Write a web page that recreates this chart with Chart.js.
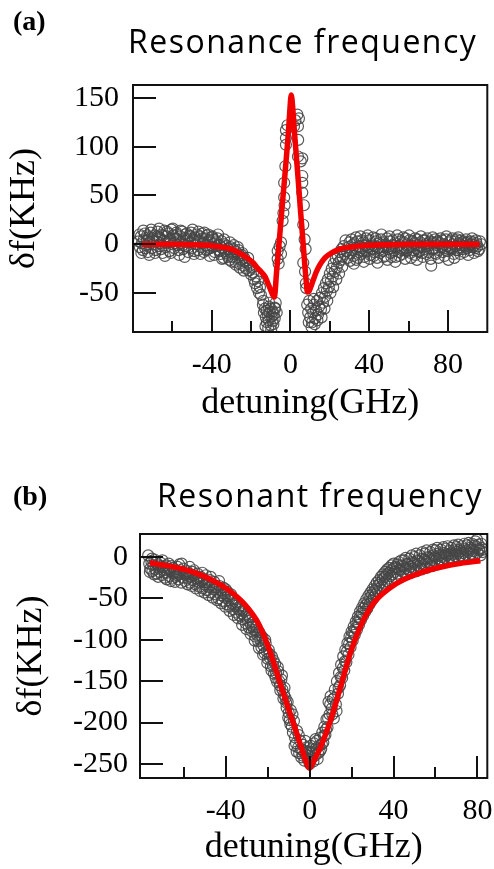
<!DOCTYPE html>
<html>
<head>
<meta charset="utf-8">
<script src="https://cdn.jsdelivr.net/npm/chart.js@4"></script>
<style>
  body { margin: 0; background: #fff; width: 494px; height: 869px; position: relative; overflow: hidden; }
  canvas { position: absolute; left: 0; }
  .tag { position: absolute; font-family: 'Liberation Serif', serif; font-weight: bold; font-size: 28px; line-height: 1; color: #000; }
  .ttl { position: absolute; font-family: 'Open Sans', sans-serif; font-size: 32px; letter-spacing: 1.5px; line-height: 1; color: #000; white-space: nowrap; }
</style>
</head>
<body>
<canvas id="chartA" width="494" height="430" style="top:0"></canvas>
<canvas id="chartB" width="494" height="439" style="top:430px"></canvas>
<div class="tag" style="left:13px;top:7px">(a)</div>
<div class="ttl" style="left:128px;top:25px">Resonance frequency</div>
<div class="tag" style="left:13px;top:482px">(b)</div>
<div class="ttl" style="left:157px;top:479px">Resonant frequency</div>
<script>
// panel (a): resonance frequency shift vs detuning
const aYTicks = [-50, 0, 50, 100, 150];
const aXMajor = [-40, 0, 40, 80];
const aXMinor = [-60, -20, 20, 60];

const aPts = [
  [-77,3],[-76.5,-3],[-76,8],[-75.5,1],[-75,-6],[-74.5,5],[-74,11],[-73.5,-1],[-73,4],[-72.5,-8],
  [-72,7],[-71.5,2],[-71,12],[-70.5,-4],[-70,6],[-69.5,0],[-69,9],[-68.5,-6],[-68,3],[-67.5,13],
  [-67,-2],[-66.5,7],[-66,1],[-65.5,10],[-65,-9],[-64.5,4],[-64,14],[-63.5,-3],[-63,8],[-62.5,2],
  [-62,11],[-61.5,-7],[-61,5],[-60.5,15],[-60,0],[-59.5,9],[-59,-4],[-58.5,6],[-58,12],[-57.5,-1],
  [-57,3],[-56.5,-11],[-56,8],[-55.5,1],[-55,13],[-54.5,-5],[-54,6],[-53.5,10],[-53,-2],[-52.5,4],
  [-52,-8],[-51.5,9],[-51,2],[-50.5,12],[-50,-4],[-49.5,5],[-49,-10],[-48.5,7],[-48,0],[-47.5,10],
  [-47,-6],[-46.5,3],[-46,8],[-45.5,-3],[-45,11],[-44.5,1],[-44,-8],[-43.5,6],[-43,-1],[-42.5,9],
  [-42,-5],[-41.5,4],[-41,-12],[-40.5,2],[-40,7],[-39.5,-3],[-39,5],[-38.5,-8],[-38,1],[-37.5,-2],
  [-37,6],[-36.5,-6],[-36,-1],[-35.5,-10],[-35,3],[-34.5,-4],[-34,-14],[-33.5,0],[-33,-7],[-32.5,-2],
  [-32,-11],[-31.5,-5],[-31,-16],[-30.5,-3],[-30,-9],[-29.5,-13],[-29,-5],[-28.5,-10],[-28,-18],[-27.5,-8],
  [-27,-14],[-26.5,-6],[-26,-20],[-25.5,-12],[-25,-16],[-24.5,-9],[-24,-22],[-23.5,-14],[-23,-18],[-22.5,-25],
  [-22,-19],[-21.5,-14],[-21,-27],[-20.5,-22],[-20,-31],[-19.5,-24],[-19,-29],[-18.5,-36],[-18,-40],[-17.5,-33],
  [-17,-45],[-16.5,-38],[-16,-50],[-15.5,-44],[-15,-52],[-14,-62],[-13.5,-70],[-13,-66],[-12.5,-75],[-12,-68],
  [-12,-80],[-11.5,-72],[-11,-64],[-11,-78],[-10.5,-70],[-10,-83],[-10,-66],[-9.5,-74],[-9,-69],[-9,-79],
  [-8.5,-72],[-8,-65],[-8,-76],[-7.5,-60],[-7,-70],[-6.5,-15],[-6.5,-7],[-6,-20],[-5.5,-2],[-4.8,2],
  [-4.8,-10],[-4,24],[-3.6,32],[-3.2,48],[-3.2,63],[-3,40],[-2.6,80],[-2.3,102],[-2.3,109],[-2.3,117],
  [-1.5,122],[1.8,121],[2.5,127],[3.5,133],[3.8,121],[4.3,129],[3.9,107],[3.8,90],[5.2,85],[6,63],
  [6,53],[6,88],[6,70],[6.5,20],[7.2,5],[7.7,-5],[6.5,-19],[6.8,40],[7.4,-28],[7.8,-40],
  [8,-45],[8.5,-62],[9,-70],[9.5,-58],[10,-75],[10.5,-66],[11,-80],[11.5,-70],[12,-62],[12.5,-76],
  [13,-68],[13.5,-58],[14,-72],[14.5,-64],[15,-55],[15.5,-67],[16,-50],[16.5,-60],[17,-45],[17.5,-54],
  [18,-40],[18.5,-48],[19,-36],[19.5,-44],[20,-30],[20.5,-38],[21,-25],[21.5,-33],[22,-20],[22.5,-28],
  [23,-15],[23.5,-24],[24,-12],[24.5,-19],[25,-8],[25.5,-16],[26,-5],[26.5,-13],[27,-2],[27.5,-10],
  [28,4],[28.5,-7],[29,-14],[29.5,-3],[30,2],[30.5,-9],[31,5],[31.5,-6],[32,-12],[32.5,1],
  [33,-4],[33.5,-16],[34,3],[34.5,-8],[35,-2],[35.5,8],[36,-10],[36.5,-4],[37,2],[37.5,-13],
  [38,-1],[38.5,6],[39,-7],[39.5,-3],[40,4],[40.5,-11],[41,0],[41.5,-5],[42,7],[42.5,-8],
  [43,-2],[43.5,3],[44,-14],[44.5,-4],[45,1],[45.5,-9],[46,5],[46.5,-3],[47,-7],[47.5,2],
  [48,-12],[48.5,-1],[49,6],[49.5,-5],[50,-2],[50.5,3],[51,-9],[51.5,-4],[52,4],[52.5,-6],
  [53,1],[53.5,-13],[54,-3],[54.5,5],[55,-8],[55.5,-1],[56,3],[56.5,-6],[57,-10],[57.5,2],
  [58,-4],[58.5,6],[59,-7],[59.5,0],[60,-3],[60.5,4],[61,-9],[61.5,-2],[62,3],[62.5,-6],
  [63,1],[63.5,-11],[64,-4],[64.5,5],[65,-1],[65.5,-7],[66,2],[66.5,-3],[67,-9],[67.5,4],
  [68,-5],[68.5,0],[69,-2],[69.5,6],[70,-8],[70.5,-1],[71,3],[71.5,-22],[72,-5],[72.5,2],
  [73,-4],[73.5,5],[74,-10],[74.5,-1],[75,3],[75.5,-6],[76,1],[76.5,-3],[77,4],[77.5,-8],
  [78,0],[78.5,-4],[79,5],[79.5,-2],[80,-7],[80.5,2],[81,-3],[81.5,4],[82,-5],[82.5,0],
  [83,-10],[83.5,3],[84,-2],[84.5,5],[85,-6],[85.5,1],[86,-3],[86.5,4],[87,-1],[87.5,-5],
  [88,3],[88.5,-2],[89,1],[89.5,-4],[90,2],[90.5,-1],[91,-6],[91.5,3],[92,0],[92.5,-3],
  [93,2],[93.5,-1],[94,-4],[94.5,1],[95,-2],[96,-5],[97,0],
  // second, denser pass over the wings and the two dips
  [-76.75,10],[-75.75,-9],[-74.75,14],[-73.75,-4],[-72.75,9],[-71.75,-11],[-70.75,15],[-69.75,3],[-68.75,-9],[-67.75,8],
  [-66.75,16],[-65.75,-5],[-64.75,9],[-63.75,-12],[-62.75,13],[-61.75,4],[-60.75,-9],[-59.75,16],[-58.75,1],[-57.75,10],
  [-56.75,-6],[-55.75,14],[-54.75,-1],[-53.75,-13],[-52.75,11],[-51.75,-3],[-50.75,8],[-49.75,15],[-48.75,-7],[-47.75,4],
  [-46.75,13],[-45.75,-10],[-44.75,6],[-43.75,12],[-42.75,-6],[-41.75,10],[-40.75,-4],[-39.75,8],[-38.75,-11],[-37.75,3],
  [-36.75,10],[-35.75,-7],[-34.75,-15],[-33.75,5],[-32.75,-9],[-31.75,-13],[-30.75,2],[-29.75,-18],[-28.75,-1],[-27.75,-21],
  [-26.75,-3],[-25.75,-24],[-24.75,-11],[-23.75,-27],
  [-13.8,-58],[-12.7,-84],[-11.3,-86],[-9.8,-88],[-8.7,-82],[-10.8,-60],[-7.8,-66],
  [9.3,-80],[10.7,-85],[12.3,-82],[13.7,-78],[11.8,-56],[15.8,-75],[17.3,-66],[18.7,-58],[20.3,-50],
  [21.7,-44],[23.3,-36],[24.7,-30],[26.3,-23],
  [30.25,-17],[31.25,-1],[32.25,-20],[33.25,7],[34.25,-14],[35.25,-6],[36.25,4],[37.25,-18],[38.25,-6],[39.25,9],
  [40.25,-15],[41.25,-2],[42.25,-12],[43.25,6],[44.25,-19],[45.25,-6],[46.25,10],[47.25,-13],[48.25,-3],[49.25,-16],
  [50.25,8],[51.25,-13],[52.25,-1],[53.25,-18],[54.25,9],[55.25,-12],[56.25,-4],[57.25,7],[58.25,-15],[59.25,-6],
  [60.25,9],[61.25,-14],[62.25,-2],[63.25,6],[64.25,-16],[65.25,-8],[66.25,8],[67.25,-13],[68.25,4],[69.25,-10],
  [70.25,1],[71.25,-15],[72.25,7],[73.25,-9],[74.25,2],[75.25,-14],[76.25,6],[77.25,-3],[78.25,-12],[79.25,8],
  [80.25,-16],[81.25,-4],[82.25,6],[83.25,-14],[84.25,-6],[85.25,7],[86.25,-10],[87.25,2],[88.25,-8],[89.25,5],
  [90.25,-11],[91.25,-3],[92.25,6],[93.25,-9],[94.25,4],[95.25,-7],[96.25,3]
];

const aFit = [
  [-75.5,0],[-60,0],[-50,-0.5],[-40,-1.5],[-35,-3],[-30,-5],[-26,-9],[-22,-14],[-19,-19],[-16.5,-25],
  [-15,-28],[-13,-33],[-11.5,-40],[-10,-47],[-9,-52],[-8.2,-54],[-7,-27],[-6,-4],[-5,20],[-4,44],
  [-3,67],[-2,91],[-1,116],[-0.3,138],[0.4,153],[1.3,136],[2,116],[3,90],[4,64],[5,37],
  [6,12],[7,-14],[8,-38],[8.6,-49],[9.5,-48],[11,-40],[13,-29],[15,-21],[17.5,-14],[20,-10],
  [25,-5],[30,-3],[40,-1],[50,-0.5],[60,0],[75,0],[96,0]
];

// panel (b): resonant frequency shift vs detuning
const bYTicks = [-250, -200, -150, -100, -50, 0];
const bXMajor = [-40, 0, 40, 80];
const bXMinor = [-60, -20, 20, 60];

const bPts = [
  [-77,2],[-76.5,-8],[-76,-14],[-75.5,-5],[-75,-17],[-74.5,-10],[-74,-3],[-73.5,-15],[-73,-20],[-72.5,-9],
  [-72,-13],[-71.5,-18],[-71,-7],[-70.5,-22],[-70,-12],[-69.5,-16],[-69,-25],[-68.5,-10],[-68,-19],[-67.5,-14],
  [-67,-23],[-66.5,-17],[-66,-11],[-65.5,-26],[-65,-20],[-64.5,-15],[-64,-24],[-63.5,-18],[-63,-12],[-62.5,-27],
  [-62,-21],[-61.5,-16],[-61,-8],[-60.5,-25],[-60,-19],[-59.5,-29],[-59,-22],[-58.5,-17],[-58,-26],[-57.5,-20],
  [-57,-31],[-56.5,-24],[-56,-18],[-55.5,-28],[-55,-22],[-54.5,-33],[-54,-26],[-53.5,-20],[-53,-30],[-52.5,-36],
  [-52,-24],[-51.5,-29],[-51,-38],[-50.5,-27],[-50,-33],[-49.5,-22],[-49,-40],[-48.5,-31],[-48,-36],[-47.5,-28],
  [-47,-43],[-46.5,-34],[-46,-39],[-45.5,-30],[-45,-45],[-44.5,-37],[-44,-42],[-43.5,-50],[-43,-35],[-42.5,-46],
  [-42,-40],[-41.5,-53],[-41,-44],[-40.5,-49],[-40,-39],[-39.5,-57],[-39,-47],[-38.5,-52],[-38,-60],[-37.5,-45],
  [-37,-56],[-36.5,-63],[-36,-51],[-35.5,-59],[-35,-67],[-34.5,-55],[-34,-63],[-33.5,-71],[-33,-59],[-32.5,-68],
  [-32,-75],[-31.5,-64],[-31,-72],[-30.5,-80],[-30,-69],[-29.5,-77],[-29,-85],[-28.5,-73],[-28,-82],[-27.5,-90],
  [-27,-79],[-26.5,-88],[-26,-96],[-25.5,-85],[-25,-94],[-24.5,-102],[-24,-91],[-23.5,-100],[-23,-109],[-22.5,-97],
  [-22,-107],[-21.5,-116],[-21,-104],[-20.5,-114],[-20,-123],[-19.5,-112],[-19,-122],[-18.5,-132],[-18,-120],[-17.5,-131],
  [-17,-141],[-16.5,-129],[-16,-140],[-15.5,-151],[-15,-138],[-14.5,-150],[-14,-161],[-13.5,-148],[-13,-160],[-12.5,-171],
  [-12,-158],[-11.5,-170],[-11,-182],[-10.5,-175],[-10,-188],[-9.5,-197],[-9,-185],[-8.5,-205],[-8,-212],[-7.5,-198],
  [-7,-218],[-6.5,-225],[-6,-210],[-5.5,-230],[-5,-237],[-4.5,-222],[-4,-242],[-3.5,-233],[-3,-227],[-2.5,-246],
  [-2,-238],[-1.5,-230],[-1,-244],[-0.5,-235],[0,-250],[0,-240],[0.5,-228],[1,-243],[1.5,-236],[2,-225],
  [2.5,-240],[3,-231],[3.5,-222],[4,-237],[4.5,-228],[5,-218],[5.5,-232],[6,-212],[6.5,-224],[7,-205],
  [7.5,-215],[8,-196],[8.5,-206],[9,-175],[9.5,-190],[10,-168],[10.5,-183],[11,-172],[11.5,-195],[12,-160],
  [12.5,-178],[13,-150],[13.5,-165],[14,-140],[14.5,-155],[15,-130],[15.5,-146],[16,-120],[16.5,-137],[17,-112],
  [17.5,-127],[18,-104],[18.5,-118],[19,-96],[19.5,-109],[20,-90],[20.5,-101],[21,-84],[21.5,-94],[22,-78],
  [22.5,-88],[23,-72],[23.5,-82],[24,-66],[24.5,-76],[25,-61],[25.5,-71],[26,-56],[26.5,-66],[27,-51],
  [27.5,-62],[28,-47],[28.5,-57],[29,-43],[29.5,-53],[30,-39],[30.5,-49],[31,-35],[31.5,-45],[32,-31],
  [32.5,-42],[33,-28],[33.5,-38],[34,-24],[34.5,-35],[35,-21],[35.5,-32],[36,-18],[36.5,-29],[37,-15],
  [37.5,-26],[38,-13],[38.5,-23],[39,-10],[39.5,-21],[40,-8],[40.5,-18],[41,-25],[41.5,-13],[42,-20],
  [42.5,-6],[43,-16],[43.5,-24],[44,-10],[44.5,-18],[45,-4],[45.5,-14],[46,-21],[46.5,-8],[47,-15],
  [47.5,-2],[48,-12],[48.5,-19],[49,-6],[49.5,-14],[50,0],[50.5,-10],[51,-17],[51.5,-4],[52,-11],
  [52.5,2],[53,-8],[53.5,-15],[54,-2],[54.5,-9],[55,4],[55.5,-6],[56,-13],[56.5,0],[57,-7],
  [57.5,6],[58,-4],[58.5,-11],[59,2],[59.5,-5],[60,8],[60.5,-2],[61,-9],[61.5,4],[62,-3],
  [62.5,9],[63,0],[63.5,-7],[64,5],[64.5,-1],[65,10],[65.5,2],[66,-5],[66.5,7],[67,0],
  [67.5,11],[68,3],[68.5,-4],[69,8],[69.5,1],[70,12],[70.5,4],[71,-2],[71.5,9],[72,2],
  [72.5,13],[73,5],[73.5,-1],[74,10],[74.5,3],[75,14],[75.5,6],[76,0],[76.5,11],[77,4],
  [77.5,16],[78,7],[78.5,1],[79,19],[79.5,12],[80,5],[80.5,15],[81,8],[81.5,2],[82,11],[82.5,6],
  // second, denser pass across the band
  [-76.2,-18],[-75.2,-2],[-74.2,-21],[-73.2,-6],[-72.2,-24],[-71.2,-11],[-70.2,-4],[-69.2,-19],[-68.2,-27],[-67.2,-8],
  [-66.2,-29],[-65.2,-13],[-64.2,-30],[-63.2,-22],[-62.2,-9],[-61.2,-31],[-60.2,-14],[-59.2,-20],[-58.2,-33],[-57.2,-12],
  [-56.2,-35],[-55.2,-16],[-54.2,-38],[-53.2,-25],[-52.2,-41],[-51.2,-19],[-50.2,-43],[-49.2,-30],[-48.2,-46],[-47.2,-24],
  [-46.2,-49],[-45.2,-35],[-44.2,-52],[-43.2,-29],[-42.2,-56],[-41.2,-37],[-40.2,-60],[-39.2,-42],[-38.2,-65],[-37.2,-51],
  [-36.2,-70],[-35.2,-55],[-34.2,-74],[-33.2,-64],[-32.2,-82],[-31.2,-66],[-30.2,-87],[-29.2,-72],[-28.2,-93],[-27.2,-84],
  [-26.2,-101],[-25.2,-89],[-24.2,-110],[-23.2,-95],[-22.2,-118],[-21.2,-100],[-20.2,-128],[-19.2,-117],[-18.2,-137],[-17.2,-125],
  [-16.2,-146],[-15.2,-133],[-14.2,-155],[-13.2,-143],[-12.2,-166],[-11.2,-176],[-10.2,-194],[-9.2,-202],[-8.2,-190],[-7.2,-228],
  [-6.2,-235],[-5.2,-215],[-4.2,-232],[-3.2,-240],[-2.2,-222],[-1.2,-236],[-0.2,-244],[0.8,-235],[1.8,-247],[2.8,-220],
  [3.8,-244],[4.8,-235],[5.8,-226],[6.8,-216],[7.8,-208],[8.8,-195],[9.8,-178],[10.8,-190],[11.8,-170],[12.8,-186],
  [13.8,-158],[14.8,-145],[15.8,-134],[16.8,-126],[17.8,-114],[18.8,-105],[19.8,-97],[20.8,-91],[21.8,-86],[22.8,-79],
  [23.8,-73],[24.8,-68],[25.8,-62],[26.8,-58],[27.8,-54],[28.8,-49],[29.8,-45],[30.8,-41],[31.8,-38],[32.8,-34],
  [33.8,-31],[34.8,-27],[35.8,-24],[36.8,-21],[37.8,-19],[38.8,-16],[39.8,-14],[40.8,-12],[41.8,-9],[42.8,-15],
  [43.8,-4],[44.8,-11],[45.8,-1],[46.8,-9],[47.8,-17],[48.8,2],[49.8,-7],[50.8,4],[51.8,-5],[52.8,-13],
  [53.8,6],[54.8,-3],[55.8,8],[56.8,-1],[57.8,-9],[58.8,9],[59.8,0],[60.8,11],[61.8,2],[62.8,-5],
  [63.8,12],[64.8,3],[65.8,13],[66.8,4],[67.8,-2],[68.8,14],[69.8,6],[70.8,15],[71.8,7],[72.8,0],
  [73.8,16],[74.8,8],[75.8,17],[76.8,9],[77.8,3],[78.8,14],[79.8,21],[80.8,10],[81.8,16],[82.8,9]
];

const bFit = [
  [-76.2,-7],[-66.8,-11],[-55.8,-18],[-46.4,-28],[-38.6,-40],[-30.7,-58],[-24.5,-80],[-19.8,-108],[-16.6,-132],[-13.5,-157],
  [-10.4,-181],[-7.2,-205],[-4.1,-229],[-2,-245],[0,-255],[2,-246],[5.3,-229],[10,-197],[14.7,-157],[19.4,-116],
  [24.2,-84],[30.4,-56],[41.4,-32],[54,-18],[66.5,-10],[81.4,-4.5]
];

const serif = 'Liberation Serif';

// frame box plus inward tick marks, placed through the chart's own scales
const frameTicks = {
  id: 'frameTicks',
  afterDraw(chart, args, opts) {
    const { ctx, chartArea: a, scales: { x, y } } = chart;
    ctx.save();
    ctx.strokeStyle = '#111';
    ctx.lineWidth = 2;
    ctx.beginPath();
    opts.yTicks.forEach(v => {
      const py = Math.round(y.getPixelForValue(v));
      ctx.moveTo(a.left, py);
      ctx.lineTo(a.left + 23, py);
    });
    opts.xMajor.forEach(v => {
      const px = Math.round(x.getPixelForValue(v));
      ctx.moveTo(px, a.bottom);
      ctx.lineTo(px, a.bottom - 22);
    });
    opts.xMinor.forEach(v => {
      const px = Math.round(x.getPixelForValue(v));
      ctx.moveTo(px, a.bottom);
      ctx.lineTo(px, a.bottom - 11);
    });
    ctx.stroke();
    ctx.strokeRect(a.left, a.top, a.right - a.left, a.bottom - a.top);
    ctx.restore();
  }
};

function makePanel(id, p) {
  const canvas = document.getElementById(id);
  const H = canvas.height;
  return new Chart(canvas.getContext('2d'), {
    type: 'scatter',
    data: {
      datasets: [
        {
          data: p.fit.map(d => ({ x: d[0], y: d[1] })),
          showLine: true,
          borderColor: '#f20000',
          borderWidth: 5.5,
          pointRadius: 0,
          cubicInterpolationMode: 'monotone'
        },
        {
          data: p.pts.map(d => ({ x: d[0], y: d[1] })),
          pointStyle: 'circle',
          pointRadius: 5.5,
          borderWidth: 1.2,
          borderColor: 'rgba(70,70,70,0.9)',
          backgroundColor: 'rgba(0,0,0,0)'
        }
      ]
    },
    options: {
      responsive: false,
      animation: false,
      events: [],
      layout: { padding: { top: p.top, right: p.right, left: 0, bottom: 0 } },
      plugins: {
        legend: { display: false },
        tooltip: { enabled: false },
        frameTicks: { yTicks: p.yTicks, xMajor: p.xMajor, xMinor: p.xMinor }
      },
      scales: {
        x: {
          type: 'linear',
          min: p.xMin,
          max: p.xMax,
          afterBuildTicks: s => { s.ticks = p.xMinor.concat(p.xMajor).sort((m, n) => m - n).map(v => ({ value: v })); },
          afterFit: s => { s.height = H - p.bottom; s.paddingLeft = 0; s.paddingRight = 0; },
          grid: { display: false, drawTicks: false },
          border: { display: false },
          ticks: {
            autoSkip: false,
            maxRotation: 0,
            padding: p.xPad,
            color: '#000',
            font: { family: serif, size: 30 },
            callback: v => p.xMajor.includes(v) ? String(v) : ''
          },
          title: {
            display: true,
            text: 'detuning(GHz)',
            color: '#000',
            font: { family: serif, size: 36 },
            padding: { top: 0, bottom: p.xTitlePad }
          }
        },
        y: {
          type: 'linear',
          min: p.yMin,
          max: p.yMax,
          afterBuildTicks: s => { s.ticks = p.yTicks.map(v => ({ value: v })); },
          afterFit: s => { s.width = p.left; s.paddingTop = 0; s.paddingBottom = 0; },
          grid: { display: false, drawTicks: false },
          border: { display: false },
          ticks: {
            padding: p.yPad,
            color: '#000',
            font: { family: serif, size: 30 },
            callback: v => String(v)
          },
          title: {
            display: true,
            text: 'δf(KHz)',
            color: '#000',
            font: { family: serif, size: 36 },
            padding: { top: p.yTitlePad, bottom: 0 }
          }
        }
      }
    },
    plugins: [frameTicks]
  });
}

makePanel('chartA', {
  pts: aPts, fit: aFit, yTicks: aYTicks, xMajor: aXMajor, xMinor: aXMinor,
  xMin: -80, xMax: 100, yMin: -90, yMax: 163.3,
  top: 85, right: 1, left: 133, bottom: 332,
  xPad: 15, yPad: 14, xTitlePad: 5, yTitlePad: 3
});

makePanel('chartB', {
  pts: bPts, fit: bFit, yTicks: bYTicks, xMajor: bXMajor, xMinor: bXMinor,
  xMin: -80.9, xMax: 84.7, yMin: -266.9, yMax: 27.8,
  top: 104, right: 2, left: 140, bottom: 348,
  xPad: 15, yPad: 12, xTitlePad: 0, yTitlePad: 10
});
</script>
</body>
</html>
